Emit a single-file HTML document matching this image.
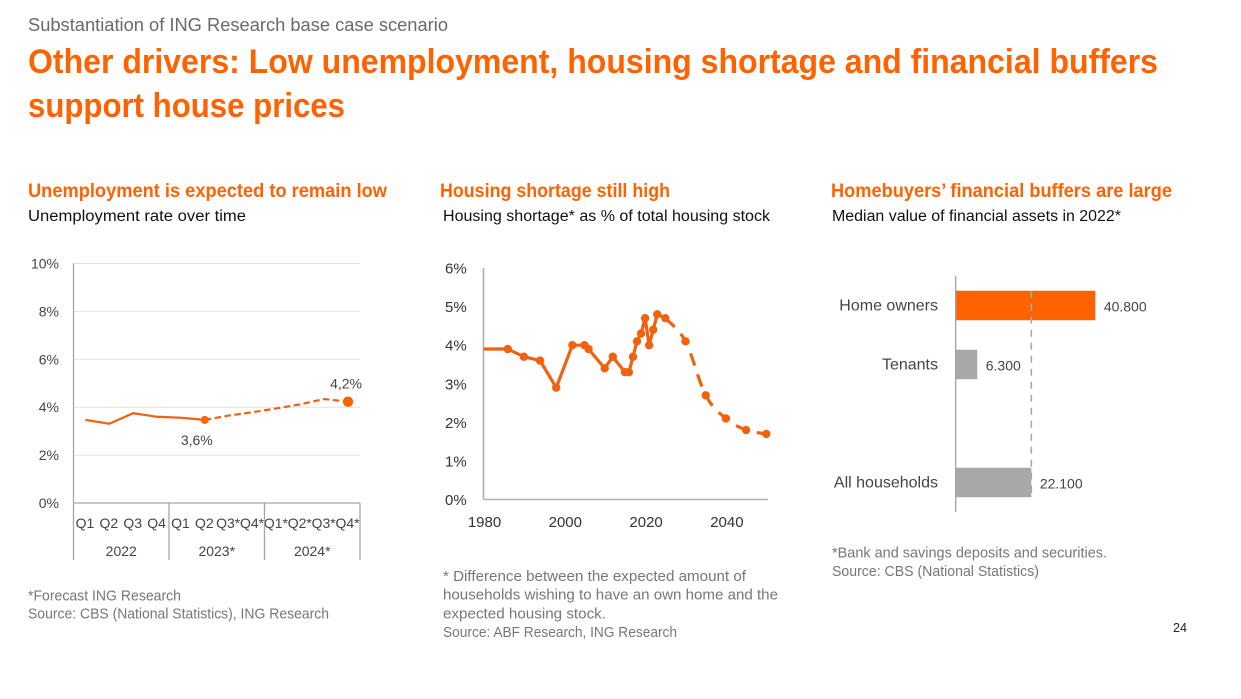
<!DOCTYPE html>
<html lang="en">
<head>
<meta charset="utf-8">
<title>Other drivers</title>
<style>
html,body{margin:0;padding:0;background:#fff;width:1241px;height:699px;overflow:hidden}
svg{display:block}
text{font-family:"Liberation Sans",sans-serif}
.sub{font-size:18px;fill:#696969}
.h1{font-size:34px;font-weight:bold;fill:#ff6200}
.h2{font-size:19px;font-weight:bold;fill:#ff6200}
.h3{font-size:15.5px;fill:#111}
.fn{font-size:14px;fill:#777}
.fn2{font-size:14.5px;fill:#777}
.tick{font-size:14px;fill:#444}
.tick2{font-size:15px;fill:#333}
.cat{font-size:16px;fill:#444}
</style>
</head>
<body>
<svg id="page" width="1241" height="699" viewBox="0 0 1241 699" xmlns="http://www.w3.org/2000/svg">
<rect width="1241" height="699" fill="#fff"/>
<text class="sub" x="28" y="31" textLength="420" lengthAdjust="spacingAndGlyphs">Substantiation of ING Research base case scenario</text>
<text class="h1" x="28" y="73" textLength="1130" lengthAdjust="spacingAndGlyphs">Other drivers: Low unemployment, housing shortage and financial buffers</text>
<text class="h1" x="28" y="117" textLength="317" lengthAdjust="spacingAndGlyphs">support house prices</text>

<text class="h2" x="28" y="197" textLength="359" lengthAdjust="spacingAndGlyphs">Unemployment is expected to remain low</text>
<text class="h3" x="28" y="221" textLength="218" lengthAdjust="spacingAndGlyphs">Unemployment rate over time</text>
<text class="h2" x="440" y="197" textLength="230" lengthAdjust="spacingAndGlyphs">Housing shortage still high</text>
<text class="h3" x="443" y="221" textLength="327" lengthAdjust="spacingAndGlyphs">Housing shortage* as % of total housing stock</text>
<text class="h2" x="831" y="197" textLength="341" lengthAdjust="spacingAndGlyphs">Homebuyers’ financial buffers are large</text>
<text class="h3" x="832" y="221" textLength="289" lengthAdjust="spacingAndGlyphs">Median value of financial assets in 2022*</text>

<g id="chart1"></g>
<g id="chart2"></g>
<g id="chart3"></g>

<text class="fn2" x="28" y="600.5" textLength="153" lengthAdjust="spacingAndGlyphs">*Forecast ING Research</text>
<text class="fn2" x="28" y="618.5" textLength="301" lengthAdjust="spacingAndGlyphs">Source: CBS (National Statistics), ING Research</text>
<text class="fn2" x="443" y="581" textLength="303" lengthAdjust="spacingAndGlyphs">* Difference between the expected amount of</text>
<text class="fn2" x="443" y="599.5" textLength="335" lengthAdjust="spacingAndGlyphs">households wishing to have an own home and the</text>
<text class="fn2" x="443" y="618.5" textLength="163" lengthAdjust="spacingAndGlyphs">expected housing stock.</text>
<text class="fn2" x="443" y="637" textLength="234" lengthAdjust="spacingAndGlyphs">Source: ABF Research, ING Research</text>
<text class="fn2" x="832" y="557.5" textLength="275" lengthAdjust="spacingAndGlyphs">*Bank and savings deposits and securities.</text>
<text class="fn2" x="832" y="576" textLength="207" lengthAdjust="spacingAndGlyphs">Source: CBS (National Statistics)</text>
<text x="1173" y="632" font-size="12.5" fill="#222" textLength="14" lengthAdjust="spacingAndGlyphs">24</text>
</svg>

<script>
var NS = 'http://www.w3.org/2000/svg';

// Chart 1: unemployment rate
var quarterLabels = ['Q1','Q2','Q3','Q4','Q1','Q2','Q3*','Q4*','Q1*','Q2*','Q3*','Q4*'];
var yearLabels = ['2022','2023*','2024*'];
var unemploymentRate = [3.47,3.31,3.75,3.6,3.56,3.47,3.65,3.79,3.95,4.12,4.34,4.23];
var lastActualIndex = 5;
var unemploymentTicks = [0,2,4,6,8,10];
var unemploymentTickLabels = ['0%','2%','4%','6%','8%','10%'];
var unemploymentCallouts = ['3,6%','4,2%'];

// Chart 2: housing shortage
var shortageYears = [1980,1986,1990,1994,1998,2002,2005,2006,2010,2012,2015,2016,2017,2018,2019,2020,2021,2022,2023,2025];
var shortageValues = [3.9,3.9,3.7,3.6,2.9,4.0,4.0,3.9,3.4,3.7,3.3,3.3,3.7,4.1,4.3,4.7,4.0,4.4,4.8,4.7];
var forecastYears = [2025,2030,2035,2040,2045,2050];
var forecastValues = [4.7,4.1,2.7,2.1,1.8,1.7];
var shortageTicks = [0,1,2,3,4,5,6];
var shortageTickLabels = ['0%','1%','2%','3%','4%','5%','6%'];
var shortageYearTicks = [1980,2000,2020,2040];

// Chart 3: financial assets
var bufferCategories = ['Home owners','Tenants','','All households'];
var bufferValues = [40800,6300,null,22100];
var bufferPrinted = ['40.800','6.300','','22.100'];
var bufferColors = ['#ff6200','#a8a8a8','','#a8a8a8'];
var referenceCategoryIndex = 3;

function make(parent, tag, attrs) {
  var el = document.createElementNS(NS, tag);
  for (var k in attrs) el.setAttribute(k, attrs[k]);
  parent.appendChild(el);
  return el;
}
function name(el, n) {
  
  
  return el;
}
function label(parent, n, str, x, y, anchor, cls) {
  var t = make(parent, 'text', {x: x, y: y, 'text-anchor': anchor, 'class': cls});
  t.textContent = str;
  return name(t, n);
}
function linePath(pts) {
  return pts.map(function (p, i) { return (i ? 'L' : 'M') + p[0].toFixed(2) + ' ' + p[1].toFixed(2); }).join(' ');
}
function smoothPath(pts) {
  var d = 'M' + pts[0][0].toFixed(2) + ' ' + pts[0][1].toFixed(2);
  for (var i = 0; i < pts.length - 1; i++) {
    var p0 = pts[Math.max(i - 1, 0)], p1 = pts[i], p2 = pts[i + 1], p3 = pts[Math.min(i + 2, pts.length - 1)];
    var c1x = p1[0] + (p2[0] - p0[0]) / 6, c1y = p1[1] + (p2[1] - p0[1]) / 6;
    var c2x = p2[0] - (p3[0] - p1[0]) / 6, c2y = p2[1] - (p3[1] - p1[1]) / 6;
    d += ' C' + c1x.toFixed(2) + ' ' + c1y.toFixed(2) + ' ' + c2x.toFixed(2) + ' ' + c2y.toFixed(2) + ' ' + p2[0].toFixed(2) + ' ' + p2[1].toFixed(2);
  }
  return d;
}

/* ---------- Chart 1 ---------- */
(function () {
  var g = document.getElementById('chart1');
  var left = 73.5, right = 360, top = 263.5, base = 503, bottom = 560;
  var step = (right - left) / quarterLabels.length;
  function x(i) { return left + step * (i + 0.5); }
  function y(v) { return base - (base - top) * v / 10; }

  unemploymentTicks.forEach(function (t, i) {
    if (t !== 0) {
      name(make(g, 'line', {x1: left, x2: right, y1: y(t), y2: y(t), stroke: '#e2e2e2', 'stroke-width': 1}), 'unemployment-gridline');
    }
    label(g, 'unemployment-y-tick', unemploymentTickLabels[i], 59, y(t) + 5, 'end', 'tick');
  });
  name(make(g, 'line', {x1: left, x2: left, y1: top, y2: bottom, stroke: '#a6a6a6', 'stroke-width': 1.3}), 'unemployment-y-axis');
  name(make(g, 'line', {x1: left, x2: right, y1: base, y2: base, stroke: '#a6a6a6', 'stroke-width': 1.3}), 'unemployment-x-axis');

  quarterLabels.forEach(function (q, i) {
    label(g, 'unemployment-quarter-label', q, x(i) - 0.5, 528, 'middle', 'tick');
  });
  yearLabels.forEach(function (yr, i) {
    var groupSize = quarterLabels.length / yearLabels.length;
    var sepX = left + step * groupSize * (i + 1);
    name(make(g, 'line', {x1: sepX, x2: sepX, y1: base, y2: bottom, stroke: '#a6a6a6', 'stroke-width': 1.3}), 'unemployment-year-separator');
    label(g, 'unemployment-year-label', yr, left + step * groupSize * (i + 0.5), 556, 'middle', 'tick');
  });

  var pts = unemploymentRate.map(function (v, i) { return [x(i), y(v)]; });
  name(make(g, 'path', {d: linePath(pts.slice(0, lastActualIndex + 1)), fill: 'none', stroke: '#f0620f', 'stroke-width': 2.2}), 'unemployment-actual-line');
  name(make(g, 'path', {d: linePath(pts.slice(lastActualIndex)), fill: 'none', stroke: '#f0620f', 'stroke-width': 2.2, 'stroke-dasharray': '6.5 3.5'}), 'unemployment-forecast-line');
  var a = pts[lastActualIndex], b = pts[pts.length - 1];
  name(make(g, 'circle', {cx: a[0], cy: a[1], r: 4, fill: '#ff6200'}), 'unemployment-actual-marker');
  name(make(g, 'circle', {cx: b[0], cy: b[1], r: 5.2, fill: '#ff6200'}), 'unemployment-forecast-marker');
  label(g, 'unemployment-actual-callout', unemploymentCallouts[0], a[0] - 8, a[1] + 25, 'middle', 'tick');
  label(g, 'unemployment-forecast-callout', unemploymentCallouts[1], b[0] - 2, b[1] - 13, 'middle', 'tick');
})();

/* ---------- Chart 2 ---------- */
(function () {
  var g = document.getElementById('chart2');
  var left = 483.5, right = 766.3, top = 268, base = 499.5, axisEnd = 768;
  function x(yr) { return left + (right - left) * (yr - 1980) / 70; }
  function y(v) { return base - (base - top) * v / 6; }

  shortageTicks.forEach(function (t, i) {
    label(g, 'housing-y-tick', shortageTickLabels[i], 445, y(t) + 5.5, 'start', 'tick2');
  });
  shortageYearTicks.forEach(function (yr) {
    label(g, 'housing-x-tick', String(yr), x(yr) + 1, 527, 'middle', 'tick2');
  });
  name(make(g, 'line', {x1: left, x2: left, y1: top, y2: base, stroke: '#b0b0b0', 'stroke-width': 1.6}), 'housing-y-axis');
  name(make(g, 'line', {x1: left, x2: axisEnd, y1: base, y2: base, stroke: '#b0b0b0', 'stroke-width': 1.6}), 'housing-x-axis');

  var pts = shortageYears.map(function (yr, i) { return [x(yr), y(shortageValues[i])]; });
  name(make(g, 'path', {d: linePath(pts), fill: 'none', stroke: '#f0620f', 'stroke-width': 3.2, 'stroke-linejoin': 'round'}), 'housing-history-line');
  var fpts = forecastYears.map(function (yr, i) { return [x(yr), y(forecastValues[i])]; });
  name(make(g, 'path', {d: smoothPath(fpts), fill: 'none', stroke: '#f0620f', 'stroke-width': 3.2, 'stroke-dasharray': '13 9'}), 'housing-forecast-line');
  pts.forEach(function (p, i) {
    if (i === 0) return;
    name(make(g, 'circle', {cx: p[0], cy: p[1], r: 4.2, fill: '#f0620f'}), 'housing-history-point');
  });
  fpts.forEach(function (p, i) {
    if (i === 0) return;
    name(make(g, 'circle', {cx: p[0], cy: p[1], r: 4.2, fill: '#f0620f'}), 'housing-forecast-point');
  });
})();

/* ---------- Chart 3 ---------- */
(function () {
  var g = document.getElementById('chart3');
  var left = 955.7, top = 276, bottom = 512, barH = 29.5, labelRight = 938;
  var band = (bottom - top) / bufferCategories.length;
  function x(v) { return left + v * 0.003422; }
  function yc(i) { return top + band * (i + 0.5); }

  bufferCategories.forEach(function (c, i) {
    if (bufferValues[i] === null) return;
    name(make(g, 'rect', {x: left, y: yc(i) - barH / 2, width: x(bufferValues[i]) - left, height: barH, fill: bufferColors[i]}), 'buffer-bar');
    label(g, 'buffer-category-label', c, labelRight, yc(i) + 5, 'end', 'cat');
    label(g, 'buffer-value-label', bufferPrinted[i], x(bufferValues[i]) + 8.5, yc(i) + 6, 'start', 'tick');
  });
  name(make(g, 'line', {x1: left, x2: left, y1: top, y2: bottom, stroke: '#a0a0a0', 'stroke-width': 1.3}), 'buffer-category-axis');
  var refX = x(bufferValues[referenceCategoryIndex]);
  name(make(g, 'line', {x1: refX, x2: refX, y1: yc(0) - barH / 2, y2: yc(referenceCategoryIndex) + barH / 2, stroke: '#a8a8a8', 'stroke-width': 1.6, 'stroke-dasharray': '7 6'}), 'all-households-reference-line');
})();
</script>
</body>
</html>
